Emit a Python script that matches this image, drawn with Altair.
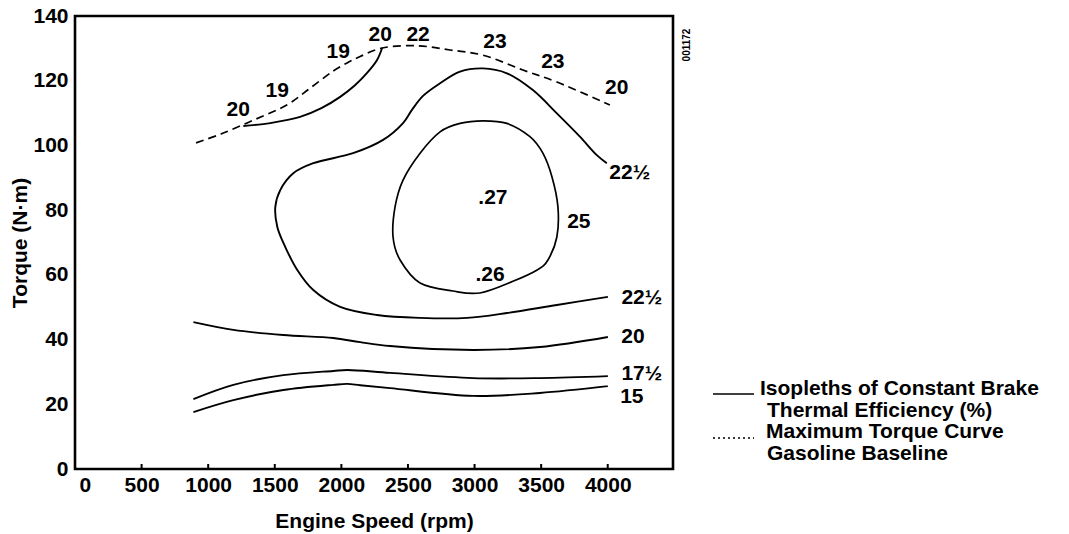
import altair as alt
import pandas as pd

# ---------------- data ----------------
# Maximum torque curve, gasoline baseline (dashed)
max_torque_rpm = [909, 1100, 1339, 1594, 1766, 1939, 2043, 2141, 2306, 2568, 2816, 3063, 3363, 3618, 4016]
max_torque_nm = [100.8, 103.6, 107.8, 112.6, 117.7, 123.0, 125.5, 127.5, 130.1, 130.8, 129.5, 127.9, 123.3, 119.6, 112.5]

# Isopleths of constant brake thermal efficiency (%)
iso20_upper_rpm = [1264, 1466, 1690, 1850, 1991, 2100, 2193, 2268, 2306]
iso20_upper_nm = [106.0, 106.9, 108.8, 111.5, 115.0, 118.5, 122.4, 126.4, 130.1]

iso22h_upper_rpm = [3993, 3918, 3791, 3618, 3438, 3243, 3063, 2891, 2741, 2613, 2530, 2463, 2313, 2088, 1789, 1639, 1541,
                    1504, 1519, 1579, 1669, 1789, 1991, 2268, 2591, 2943, 3243, 3618, 4001]
iso22h_upper_nm = [94.5, 97.0, 102.7, 109.9, 117.1, 122.3, 123.8, 122.8, 119.2, 115.3, 111.0, 106.9, 101.7, 97.6, 94.5, 91.4, 86.2,
                   81.0, 74.8, 68.6, 61.5, 55.3, 50.1, 47.6, 46.7, 46.7, 48.2, 50.7, 53.2]

# closed loop (first point not repeated)
iso25_rpm = [3063, 3243, 3416, 3513, 3581, 3626, 3618, 3551, 3470, 3288, 3041, 2838, 2591, 2441, 2388, 2403, 2463, 2591, 2741, 2891]
iso25_nm = [107.6, 106.8, 102.7, 97.6, 90.3, 81.0, 71.7, 64.6, 61.5, 58.0, 54.4, 55.0, 57.5, 64.6, 71.7, 81.0, 89.3, 97.6, 104.2, 106.8]

iso20_lower_rpm = [889, 1189, 1564, 1939, 2141, 2366, 2988, 3491, 4001]
iso20_lower_nm = [45.4, 43.0, 41.4, 40.5, 39.2, 38.0, 36.8, 37.7, 40.8]

iso17h_rpm = [889, 1189, 1564, 1939, 2044, 2366, 2988, 3491, 4001]
iso17h_nm = [21.6, 26.0, 29.0, 30.3, 30.6, 29.7, 28.1, 28.1, 28.7]

iso15_rpm = [889, 1189, 1564, 1939, 2044, 2141, 2366, 2988, 3491, 4001]
iso15_nm = [17.6, 21.3, 24.4, 26.0, 26.3, 25.9, 25.0, 22.6, 23.5, 25.6]

# Curve labels
label_text = ["20", "19", "19", "20", "22", "23", "23", "20", "22½", ".27", "25", ".26", "22½", "20", "17½", "15"]
label_rpm = [1226, 1518, 1976, 2291, 2576, 3153, 3588, 4068, 4165, 3138, 3783, 3116, 4256, 4189, 4256, 4181]
label_nm = [110.9, 116.8, 128.9, 134.1, 134.1, 132.0, 125.8, 117.7, 91.5, 83.7, 76.3, 60.0, 52.8, 40.8, 29.4, 22.1]

x_tick_values = [0, 500, 1000, 1500, 2000, 2500, 3000, 3500, 4000]
y_tick_values = [0, 20, 40, 60, 80, 100, 120, 140]
inner_tick_rpm = [500, 1000, 1500, 2000, 2500, 3000, 3500, 4000]

legend_lines = ["Isopleths of Constant Brake", "Thermal Efficiency (%)",
                "Maximum Torque Curve", "Gasoline Baseline"]
figure_id = "001172"

# ---------------- tables ----------------
open_contours = {
    "20 upper": (iso20_upper_rpm, iso20_upper_nm),
    "22.5 upper": (iso22h_upper_rpm, iso22h_upper_nm),
    "20 lower": (iso20_lower_rpm, iso20_lower_nm),
    "17.5": (iso17h_rpm, iso17h_nm),
    "15": (iso15_rpm, iso15_nm),
}
rows = []
for name, (rr, tt) in open_contours.items():
    for i, (r, t) in enumerate(zip(rr, tt)):
        rows.append({"series": name, "order": i, "rpm": r, "torque": t})
iso_df = pd.DataFrame(rows)
loop_df = pd.DataFrame({"rpm": iso25_rpm, "torque": iso25_nm, "order": range(len(iso25_rpm))})
maxt_df = pd.DataFrame({"rpm": max_torque_rpm, "torque": max_torque_nm, "order": range(len(max_torque_rpm))})
lab_df = pd.DataFrame({"text": label_text, "rpm": label_rpm, "torque": label_nm})
tick_df = pd.DataFrame({"rpm": inner_tick_rpm})

FONT = "Liberation Sans"
FS = 21
W, H = 598, 453

xscale = alt.Scale(domain=[0, 4490], nice=False, zero=False)
yscale = alt.Scale(domain=[0, 140], nice=False)

x_axis = alt.Axis(
    values=x_tick_values, format="d", title="Engine Speed (rpm)", grid=False, domain=False, ticks=False,
    labelFont=FONT, labelFontSize=FS, labelFontWeight="bold", labelColor="black", labelPadding=5,
    labelOffset=alt.ConditionalAxisNumber(condition={"test": "datum.value === 0", "value": 4}, value=0),
    titleFont=FONT, titleFontSize=FS, titleFontWeight="bold", titleColor="black", titlePadding=15,
)
y_axis = alt.Axis(
    values=y_tick_values, title="Torque (N·m)", grid=False, domain=False, ticks=False,
    labelFont=FONT, labelFontSize=FS, labelFontWeight="bold", labelColor="black", labelPadding=7,
    titleFont=FONT, titleFontSize=FS, titleFontWeight="bold", titleColor="black", titlePadding=2,
)

iso = alt.Chart(iso_df).mark_line(color="black", strokeWidth=1.9, interpolate="catmull-rom").encode(
    x=alt.X("rpm:Q", scale=xscale, axis=x_axis),
    y=alt.Y("torque:Q", scale=yscale, axis=y_axis),
    detail="series:N",
    order="order:Q",
)
loop = alt.Chart(loop_df).mark_line(color="black", strokeWidth=1.7, interpolate="cardinal-closed").encode(
    x=alt.X("rpm:Q", scale=xscale),
    y=alt.Y("torque:Q", scale=yscale),
    order="order:Q",
)
maxt = alt.Chart(maxt_df).mark_line(color="black", strokeWidth=1.7, strokeDash=[8, 5], interpolate="catmull-rom").encode(
    x=alt.X("rpm:Q", scale=xscale),
    y=alt.Y("torque:Q", scale=yscale),
    order="order:Q",
)
labels = alt.Chart(lab_df).mark_text(font=FONT, fontSize=FS, fontWeight="bold", color="black",
                                     align="center", baseline="middle").encode(
    x=alt.X("rpm:Q", scale=xscale),
    y=alt.Y("torque:Q", scale=yscale),
    text="text:N",
)
ticks = alt.Chart(tick_df).mark_rule(color="black", strokeWidth=2).encode(
    x=alt.X("rpm:Q", scale=xscale),
    y=alt.value(H),
    y2=alt.value(H - 5),
)

one = alt.Data(values=[{}])
leg_solid = alt.Chart(one).mark_rule(color="black", strokeWidth=1.6).encode(
    x=alt.value(638), x2=alt.value(679), y=alt.value(378))
leg_dot = alt.Chart(one).mark_rule(color="black", strokeWidth=1.6, strokeDash=[2, 3]).encode(
    x=alt.value(638), x2=alt.value(679), y=alt.value(422))
leg_texts = []
for txt, lx, ly in zip(legend_lines, [685, 692, 691, 692], [379, 401, 422, 444]):
    leg_texts.append(
        alt.Chart(one).mark_text(text=txt, font=FONT, fontSize=FS, fontWeight="bold", color="black",
                                 align="left", baseline="alphabetic").encode(x=alt.value(lx), y=alt.value(ly))
    )
fig_id = alt.Chart(one).mark_text(text=figure_id, font=FONT, fontSize=10, fontWeight="bold", color="black",
                                  align="center", baseline="middle", angle=270).encode(
    x=alt.value(612), y=alt.value(29))

chart = alt.layer(iso, loop, maxt, labels, ticks, leg_solid, leg_dot, *leg_texts, fig_id).properties(
    width=W, height=H,
    autosize=alt.AutoSizeParams(type="none"),
    padding={"left": 75, "top": 16, "right": 1069 - 75 - W, "bottom": 534 - 16 - H},
    background="white",
).configure_view(stroke="black", strokeWidth=2.6)

chart.save("out.html", embed_options={"renderer": "svg", "actions": False})
